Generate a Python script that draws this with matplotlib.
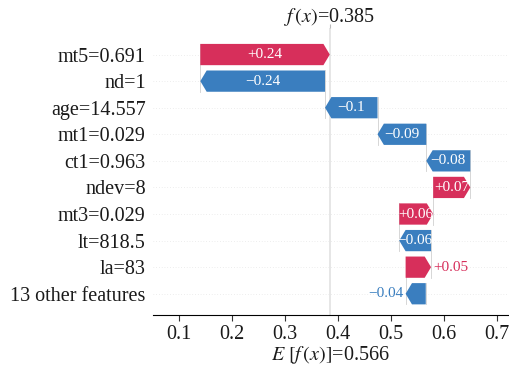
import matplotlib.pyplot as plt
import numpy as np

plt.rcParams['font.family'] = ['Liberation Serif', 'DejaVu Serif']
plt.rcParams['mathtext.fontset'] = 'stix'

# rows from top to bottom
features = ["mt5=0.691", "nd=1", "age=14.557", "mt1=0.029", "ct1=0.963",
            "ndev=8", "mt3=0.029", "lt=818.5", "la=83", "13 other features"]
shap_values = [0.2442, -0.2352, -0.099, -0.092, -0.083,
               0.070, 0.064, -0.060, 0.048, -0.038]
base_value = 0.566
xticks = [0.1, 0.2, 0.3, 0.4, 0.5, 0.6, 0.7]

red = '#d72f5b'
blue = '#3a7ebf'

fx = base_value + sum(shap_values)

fig = plt.figure(figsize=(5.09, 3.68), dpi=100)
ax = fig.add_axes([0.30, 0.144, 0.70, 0.78])
ax.set_xlim(0.051, 0.723)
ax.set_ylim(-0.8, len(features))

n = len(features)
bar_w = 0.8
hl = 0.012
lab_fs = 11

# faint row guides and f(x) line
for i in range(n):
    ax.axhline(i, color='#dddddd', lw=0.5, dashes=(1, 3), zorder=-2)
ax.axvline(fx, color='#e2e2e2', lw=1.2, zorder=-1)

fig.canvas.draw()
renderer = fig.canvas.get_renderer()
px_per_unit = ax.transData.transform((1, 0))[0] - ax.transData.transform((0, 0))[0]

# walk from the bottom row (base value) up to f(x)
cur = base_value
prev = None
for k in range(n - 1, -1, -1):
    v = shap_values[k]
    y = n - 1 - k
    start, end = cur, cur + v
    color = red if v > 0 else blue
    dist = abs(v)
    h = min(dist, hl)
    ax.arrow(start, y, np.sign(v) * max(dist - h, 1e-6), 0, head_length=h,
             width=bar_w, head_width=bar_w, color=color, lw=0,
             length_includes_head=False, zorder=2)
    # connector to the row below
    ax.plot([start, start], [y - 1 - 0.4 if prev is not None else y - 0.4, y + 0.4],
            color='#d0d0d0', lw=0.6, zorder=-1)
    txt = ('%+.2f' % v).rstrip('0').replace('-', '\u2212')
    t = ax.text((start + end) / 2, y, txt, ha='center', va='center',
                color='white', fontsize=lab_fs, zorder=3)
    tw = t.get_window_extent(renderer=renderer).width
    if tw - 4 > dist * px_per_unit:
        t.remove()
        if v > 0:
            ax.text(max(start, end) + 0.004, y, txt, ha='left', va='center',
                    color=red, fontsize=lab_fs)
        else:
            ax.text(min(start, end) - 0.004, y, txt, ha='right', va='center',
                    color=blue, fontsize=lab_fs)
    prev = start
    cur = end

ax.set_yticks(range(n))
ax.set_yticklabels(features[::-1], fontsize=14.5, color='#1a1a1a')
ax.tick_params(axis='y', length=0, pad=5)
ax.set_xticks(xticks)
ax.set_xticklabels([f"{t:.1f}" for t in xticks], fontsize=14.5)
ax.tick_params(axis='x', length=4, color='#333333', labelcolor='#1a1a1a', pad=3)
for s in ['top', 'right', 'left']:
    ax.spines[s].set_visible(False)
ax.set_xlabel(r"$E\ [f\,(x)]$=%.3f" % base_value, fontsize=14.5,
              color='#1a1a1a', labelpad=0)

top = ax.twiny()
top.set_xlim(ax.get_xlim())
top.set_xticks([fx])
top.set_xticklabels([r"$f\,(x)$=%.3f" % fx], fontsize=14.5, color='#1a1a1a')
top.tick_params(axis='x', length=3, color='#bbbbbb', pad=-3)
for s in top.spines.values():
    s.set_visible(False)

fig.savefig('out.png', dpi=100)
